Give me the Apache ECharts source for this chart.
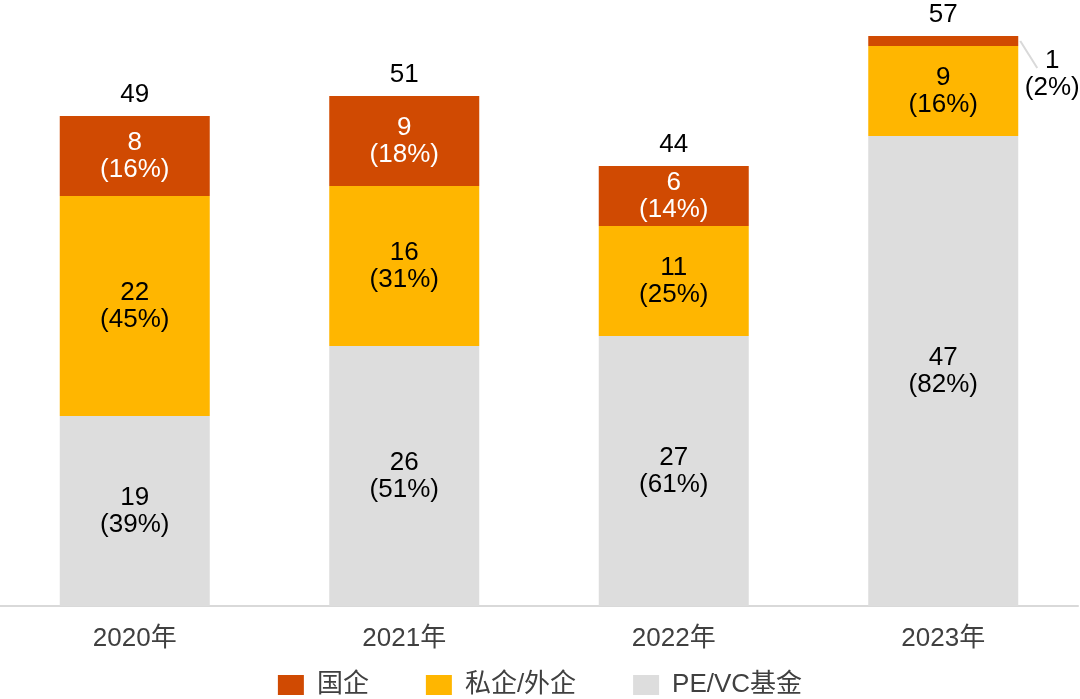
<!DOCTYPE html>
<html>
<head>
<meta charset="utf-8">
<script src="https://cdn.jsdelivr.net/npm/echarts@6/dist/echarts.min.js"></script>
<style>
html,body{margin:0;padding:0;background:#fff;}
#main{width:1080px;height:699px;}
</style>
</head>
<body>
<div id="main"></div>
<script>
var categories = ['2020年', '2021年', '2022年', '2023年'];
var peVc = [19, 26, 27, 47];
var peVcPct = ['39%', '51%', '61%', '82%'];
var privateForeign = [22, 16, 11, 9];
var privateForeignPct = ['45%', '31%', '25%', '16%'];
var stateOwned = [8, 9, 6, 1];
var stateOwnedPct = ['16%', '18%', '14%', '2%'];
var totals = [49, 51, 44, 57];

var FONT = '"Liberation Sans", Arial, "Noto Sans CJK SC", sans-serif';
var BAR_W = 150;

function makeData(vals, pcts) {
  return vals.map(function (v, i) { return { value: v, pct: pcts[i] }; });
}
function fmt(p) { return p.value + '\n(' + p.data.pct + ')'; }

var stateData = makeData(stateOwned, stateOwnedPct);
stateData[3].label = {
  position: 'right', distance: 34, align: 'center', color: '#000'
};

var chart = echarts.init(document.getElementById('main'));
chart.setOption({
  animation: false,
  textStyle: { fontFamily: FONT },
  grid: { left: 0, right: 2, top: 6, bottom: 93, containLabel: false },
  legend: {
    data: ['国企', '私企/外企', 'PE/VC基金'],
    top: 667,
    left: 'center',
    itemWidth: 26,
    itemHeight: 20,
    itemGap: 57,
    itemTextGap: 12,
    icon: 'rect',
    textStyle: { fontSize: 26, color: '#404040', fontFamily: FONT, padding: [0, 0, 0, 8] }
  },
  xAxis: {
    type: 'category',
    data: categories,
    axisLine: { lineStyle: { color: '#D9D9D9', width: 2 } },
    axisTick: { show: false },
    axisLabel: { fontSize: 26, color: '#404040', margin: 20, fontFamily: FONT }
  },
  yAxis: {
    type: 'value', min: 0, max: 60, show: false,
    splitLine: { show: false }
  },
  series: [
    {
      name: 'PE/VC基金', type: 'bar', stack: 'a', barWidth: BAR_W,
      itemStyle: { color: '#DDDDDD' },
      data: makeData(peVc, peVcPct),
      label: { show: true, position: 'inside', formatter: fmt, fontSize: 26, lineHeight: 27, color: '#000', fontFamily: FONT }
    },
    {
      name: '私企/外企', type: 'bar', stack: 'a', barWidth: BAR_W,
      itemStyle: { color: '#FFB600' },
      data: makeData(privateForeign, privateForeignPct),
      label: { show: true, position: 'inside', formatter: fmt, fontSize: 26, lineHeight: 27, color: '#000', fontFamily: FONT }
    },
    {
      name: '国企', type: 'bar', stack: 'a', barWidth: BAR_W,
      itemStyle: { color: '#D04A02' },
      data: stateData,
      label: { show: true, position: 'inside', formatter: fmt, fontSize: 26, lineHeight: 27, color: '#fff', fontFamily: FONT },
      labelLayout: function (p) {
        if (p.dataIndex === 3) { return { dy: 33 }; }
        return {};
      }
    },
    {
      name: '合计', type: 'line', data: totals,
      symbol: 'circle', symbolSize: 1,
      itemStyle: { color: 'rgba(0,0,0,0)' },
      lineStyle: { width: 0, opacity: 0 },
      silent: true,
      label: { show: true, position: 'top', distance: 8, fontSize: 26, color: '#000', fontFamily: FONT }
    }
  ]
});

// leader line for the small 2023 state-owned segment, anchored via the axes
var lastIdx = categories.length - 1;
var topPt = chart.convertToPixel({ gridIndex: 0 }, [lastIdx, totals[lastIdx]]);
var midPt = chart.convertToPixel({ gridIndex: 0 }, [lastIdx, totals[lastIdx] - stateOwned[lastIdx] / 2]);
var x0 = topPt[0] + BAR_W / 2 + 2;
var y0 = midPt[1];
chart.setOption({
  graphic: [{
    type: 'line',
    shape: { x1: x0, y1: y0, x2: x0 + 17, y2: y0 + 27 },
    style: { stroke: '#D9D9D9', lineWidth: 2 },
    silent: true
  }]
});
</script>
</body>
</html>
